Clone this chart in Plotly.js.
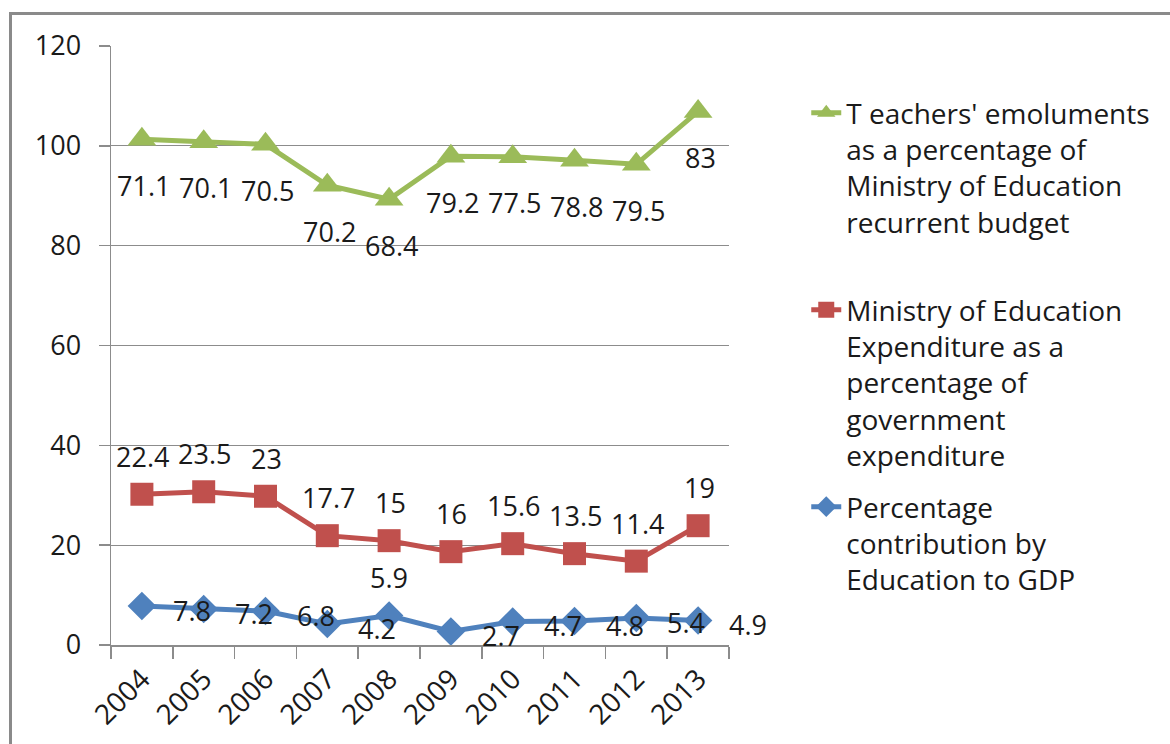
<!DOCTYPE html>
<html>
<head>
<meta charset="utf-8">
<script src="https://cdn.plot.ly/plotly-3.0.1.min.js"></script>
<style>
  html, body { margin: 0; padding: 0; background: #ffffff; }
  #wrap { position: relative; width: 1170px; height: 744px; overflow: hidden; }
  #frame { position: absolute; left: 9px; top: 12px; width: 1200px; height: 800px;
           border-left: 3px solid #8a8a8a; border-top: 3px solid #8a8a8a; pointer-events: none; z-index: 5; }
  #chart { position: absolute; left: 0; top: 0; width: 1170px; height: 744px; }
</style>
</head>
<body>
<div id="wrap">
  <div id="chart"></div>
  <div id="frame"></div>
</div>
<script>
// ---- data ----
const years = ['2004', '2005', '2006', '2007', '2008', '2009', '2010', '2011', '2012', '2013'];
const gdpShare = [7.8, 7.2, 6.8, 4.2, 5.9, 2.7, 4.7, 4.8, 5.4, 4.9];
const moeShare = [22.4, 23.5, 23, 17.7, 15, 16, 15.6, 13.5, 11.4, 19];
const teachersShare = [71.1, 70.1, 70.5, 70.2, 68.4, 79.2, 77.5, 78.8, 79.5, 83];

const nameTeachers = "T eachers' emoluments<br>as a percentage of<br>Ministry of Education<br>recurrent budget<br> ";
const nameMoe = "Ministry of Education<br>Expenditure as a<br>percentage of<br>government<br>expenditure";
const nameGdp = "Percentage<br>contribution by<br>Education to GDP";

// ---- stacked positions (stacked line chart) ----
const r1 = v => Math.round(v * 10) / 10;
const stackGdp = gdpShare.map(v => v);
const stackMoe = moeShare.map((v, i) => r1(stackGdp[i] + v));
const stackTeachers = teachersShare.map((v, i) => r1(stackMoe[i] + v));

const GREEN = '#9BBB59', RED = '#C0504D', BLUE = '#4F81BD';
const FONT = 'Open Sans, Noto Sans, sans-serif';
const TXT = '#1a1a1a';

const traces = [
  {
    x: years, y: stackTeachers, name: nameTeachers, type: 'scatter', mode: 'lines+markers',
    line: { color: GREEN, width: 5 },
    marker: { symbol: 'triangle-up', size: 25, color: GREEN },
    legendgroup: 'g1'
  },
  {
    x: years, y: stackMoe, name: nameMoe, type: 'scatter', mode: 'lines+markers',
    line: { color: RED, width: 5 },
    marker: { symbol: 'square', size: 23, color: RED },
    legendgroup: 'g2'
  },
  {
    x: years, y: stackGdp, name: nameGdp, type: 'scatter', mode: 'lines+markers',
    line: { color: BLUE, width: 5 },
    marker: { symbol: 'diamond', size: 22, color: BLUE },
    legendgroup: 'g3'
  }
];

// data labels (values, not stacked totals); x given as category index
const annotations = [];
function addLabels(vals, ys, shiftFn) {
  vals.forEach((v, i) => {
    const s = shiftFn(i);
    annotations.push({
      x: i, y: ys[i], xref: 'x', yref: 'y', text: String(v), showarrow: false,
      xshift: s[0], yshift: s[1], font: { family: FONT, size: 27, color: TXT }
    });
  });
}
addLabels(teachersShare, stackTeachers, i => [2, -46]);
addLabels(moeShare, stackMoe, i => [1, 38]);
addLabels(gdpShare, stackGdp, i => (i === 4 ? [0, 38] : [50, -4]));

const layout = {
  width: 1170, height: 744, autosize: false,
  margin: { l: 111, r: 441, t: 46, b: 99 },
  paper_bgcolor: '#ffffff', plot_bgcolor: '#ffffff',
  font: { family: FONT, size: 27, color: TXT },
  showlegend: true,
  legend: {
    x: 1.125, xanchor: 'left', y: 0.93, yanchor: 'top',
    font: { family: FONT, size: 28, color: TXT },
    valign: 'top', tracegroupgap: 12, traceorder: 'grouped',
    bgcolor: 'rgba(0,0,0,0)'
  },
  xaxis: {
    type: 'category', range: [-0.5, 9.5], autorange: false,
    tickangle: -45, tickson: 'boundaries',
    ticks: 'outside', ticklen: 12, tickcolor: '#8c8c8c', tickwidth: 1.5,
    showline: true, linecolor: '#8c8c8c', linewidth: 1.5,
    showgrid: false, zeroline: false,
    ticklabelstandoff: 5,
    tickfont: { family: FONT, size: 28, color: TXT }
  },
  yaxis: {
    range: [0, 120], autorange: false, dtick: 20, tick0: 0,
    ticks: 'outside', ticklen: 11, tickcolor: '#8c8c8c', tickwidth: 1.5,
    showline: true, linecolor: '#8c8c8c', linewidth: 1.5,
    showgrid: true, gridcolor: '#8c8c8c', gridwidth: 1.2, zeroline: false,
    ticklabelstandoff: 12,
    tickfont: { family: FONT, size: 27, color: TXT }
  },
  annotations: annotations
};

Plotly.newPlot('chart', traces, layout, { displayModeBar: false, staticPlot: true });
</script>
</body>
</html>
